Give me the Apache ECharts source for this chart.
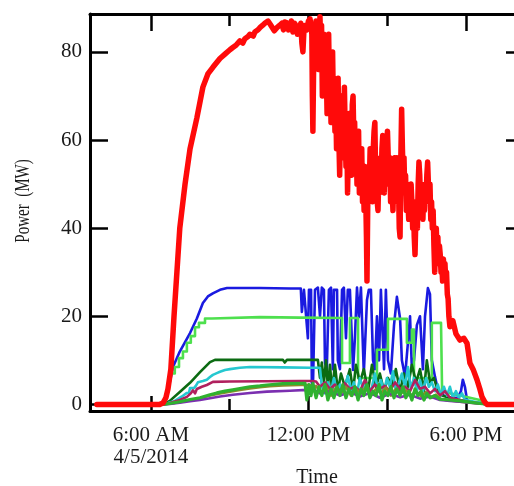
<!DOCTYPE html>
<html>
<head>
<meta charset="utf-8">
<script src="https://cdn.jsdelivr.net/npm/echarts@6/dist/echarts.min.js"></script>
<style>
html,body{margin:0;padding:0;background:#fff;}
#chart{width:514px;height:486px;}
</style>
</head>
<body>
<div id="chart"></div>
<script>
// time in hours (4/5/2014), power in MW
const xTickMajor = [6, 12, 18];
const xTickMinor = [9, 15];
const xTickLabels = ['6:00 AM\n4/5/2014', '12:00 PM', '6:00 PM'];
const yTicks = [0, 20, 40, 60, 80];

const redPower = [[3.94,0],[6.34,0],[6.46,0.3],[6.57,1.5],[6.65,3.5],[6.76,8],[6.88,20],[6.99,30],[7.10,40],[7.30,50],[7.49,58],[7.75,65],[7.98,72],[8.17,75],[8.36,76.5],[8.63,78.5],[8.82,79.5],[9.01,80.5],[9.12,81],[9.24,81.5],[9.39,82.5],[9.50,82],[9.58,83],[9.70,83.5],[9.77,84],[9.90,83.6],[9.96,84.5],[10.08,85],[10.15,85.5],[10.25,86],[10.34,86.5],[10.46,87],[10.55,86.2],[10.61,86],[10.70,84.8],[10.80,85.5],[10.90,86],[10.99,86.5],[11.05,85],[11.10,86.8],[11.18,86.6],[11.24,85],[11.30,85.5],[11.35,87],[11.41,84.5],[11.47,86.5],[11.52,86],[11.58,84],[11.64,85],[11.71,86.5],[11.75,82],[11.79,80],[11.83,85],[11.87,86],[11.94,85],[12.00,87],[12.06,87.5],[12.10,86],[12.13,84],[12.15,70],[12.17,62],[12.20,78],[12.23,86],[12.26,80],[12.29,87],[12.32,83],[12.35,86],[12.38,76],[12.41,84],[12.44,88],[12.47,80],[12.50,86],[12.53,70],[12.56,78],[12.59,84],[12.62,74],[12.65,82],[12.68,76],[12.71,66],[12.74,80],[12.77,84],[12.80,72],[12.83,78],[12.86,64],[12.89,74],[12.92,80],[12.95,68],[12.98,74],[13.01,62],[13.04,70],[13.07,58],[13.10,66],[13.13,74],[13.16,60],[13.19,52],[13.22,64],[13.25,70],[13.28,56],[13.31,66],[13.34,60],[13.37,72],[13.40,62],[13.43,54],[13.46,64],[13.49,48],[13.52,58],[13.55,66],[13.58,56],[13.61,62],[13.64,52],[13.67,68],[13.70,70],[13.73,60],[13.76,64],[13.79,54],[13.82,60],[13.85,50],[13.88,58],[13.91,62],[13.94,48],[13.97,56],[14.00,52],[14.03,58],[14.06,46],[14.09,52],[14.12,44],[14.15,54],[14.18,48],[14.21,38],[14.23,28],[14.26,46],[14.29,54],[14.32,50],[14.35,58],[14.38,48],[14.41,54],[14.44,46],[14.47,58],[14.50,62],[14.53,64],[14.56,52],[14.59,56],[14.62,46],[14.65,44],[14.68,52],[14.71,48],[14.74,56],[14.77,50],[14.80,58],[14.83,61],[14.86,52],[14.89,48],[14.92,56],[14.95,50],[14.98,58],[15.01,62],[15.04,56],[15.07,52],[15.10,56],[15.13,46],[15.16,52],[15.19,48],[15.22,44],[15.25,52],[15.28,56],[15.31,48],[15.34,54],[15.37,56],[15.40,46],[15.43,50],[15.46,40],[15.49,38],[15.52,56],[15.55,67],[15.58,58],[15.61,52],[15.64,56],[15.67,48],[15.70,52],[15.73,44],[15.76,50],[15.79,46],[15.82,42],[15.85,48],[15.88,44],[15.91,50],[15.94,46],[15.97,40],[16.00,46],[16.03,38],[16.06,34],[16.09,42],[16.12,46],[16.15,40],[16.18,50],[16.21,55],[16.24,52],[16.27,46],[16.30,50],[16.33,44],[16.36,42],[16.39,48],[16.42,44],[16.45,50],[16.48,46],[16.51,52],[16.54,55],[16.57,50],[16.60,46],[16.63,50],[16.66,42],[16.69,46],[16.72,40],[16.75,44],[16.78,36],[16.81,30],[16.84,36],[16.87,40],[16.90,34],[16.93,38],[16.96,32],[16.99,36],[17.02,34],[17.05,30],[17.08,32],[17.11,28],[17.14,33],[17.17,30],[17.20,32],[17.23,28],[17.26,30],[17.29,25],[17.32,24],[17.35,20],[17.39,17.6],[17.50,19],[17.62,16],[17.77,14.6],[17.92,15],[18.04,13.9],[18.15,9.4],[18.27,8],[18.42,5.6],[18.53,3.5],[18.61,1.7],[18.72,0.5],[18.80,0],[20.29,0]];

const bluePower = [[3.94,0],[6.46,0],[6.57,1.5],[6.72,5],[6.84,8.5],[7.10,12],[7.49,16.2],[7.75,19.5],[7.98,23],[8.17,24.5],[8.36,25.2],[8.63,26],[8.90,26.4],[10.15,26.4],[11.30,26.3],[11.71,26.3],[11.75,21],[11.83,26],[11.90,26.2],[11.98,15],[12.02,26],[12.10,26],[12.13,5],[12.17,3.3],[12.25,26],[12.36,26.5],[12.44,20],[12.51,26.5],[12.59,26],[12.63,9.4],[12.70,8],[12.78,26],[12.86,26.5],[12.93,8],[12.97,26],[13.09,26],[13.12,10],[13.20,8],[13.28,26],[13.35,26.5],[13.43,15],[13.50,26],[13.58,26],[13.70,7.8],[13.77,15],[13.85,26.5],[13.92,19.8],[14.00,26.5],[14.11,7],[14.23,23.7],[14.30,26],[14.38,26],[14.46,10],[14.53,8],[14.61,20],[14.69,10],[14.76,26],[14.88,8],[14.95,26],[15.03,10],[15.14,7],[15.26,18],[15.37,24.4],[15.49,19.5],[15.56,10],[15.68,6.3],[15.79,14],[15.87,20],[15.94,8],[16.02,10],[16.13,18],[16.25,20],[16.36,8],[16.44,20],[16.55,26.4],[16.63,25],[16.70,10],[16.82,6.3],[16.93,3.3],[17.05,2.5],[17.16,2],[17.28,1.7],[17.47,1.5],[17.69,1.5],[17.81,3],[17.88,5.6],[17.96,4],[18.04,1],[18.15,0.5],[18.53,0.3],[18.91,0],[20.29,0]];

const lightGreenPower = [[3.94,0],[6.46,0],[6.57,1.5],[6.69,5],[6.76,7],[6.91,7],[6.91,8.5],[7.07,8.5],[7.07,10.5],[7.22,10.5],[7.22,12],[7.37,12],[7.37,14],[7.52,14],[7.52,15.5],[7.68,15.5],[7.68,17.5],[7.83,17.5],[7.83,18.5],[8.06,18.5],[8.06,19.5],[8.32,19.5],[8.32,19.8],[10.15,19.8],[11.68,19.7],[13.28,19.6],[13.28,9.4],[13.58,9.4],[13.58,19.6],[13.89,19.6],[13.89,6],[14.61,6],[14.61,12.4],[15.03,12.4],[15.03,19.4],[15.75,19.4],[15.75,14],[15.94,14],[15.94,17],[16.02,17],[16.02,6],[16.70,6],[16.70,18.5],[17.05,18.5],[17.09,3.3],[17.39,2.5],[17.77,2],[18.15,1.5],[18.53,1],[18.91,0],[20.29,0]];

const darkGreenPower = [[3.94,0],[6.46,0],[6.57,0.3],[6.72,0.8],[7.10,2.8],[7.49,4.9],[7.87,7.3],[8.25,9.6],[8.44,10.1],[9.77,10.1],[11.03,10.1],[11.10,9.5],[11.18,10.1],[12.36,10.1],[12.44,6],[12.51,9.5],[12.59,5],[12.67,10],[12.74,4],[12.82,9],[12.90,3],[13.01,9],[13.12,3],[13.24,7],[13.39,4],[13.58,8],[13.70,3],[13.81,9],[13.96,5],[14.11,8],[14.27,3],[14.42,9],[14.57,4],[14.72,7],[14.88,3],[15.03,6],[15.18,4],[15.33,8],[15.49,3],[15.64,7],[15.79,4],[15.94,9],[16.10,5],[16.25,8],[16.40,3],[16.51,10],[16.63,5],[16.78,6],[16.93,3],[17.09,2],[17.39,1.5],[17.77,1],[18.15,0.5],[18.53,0.3],[18.91,0],[20.29,0]];

const cyanPower = [[3.94,0],[6.46,0],[6.65,0.3],[6.91,0.8],[7.18,1.8],[7.37,2.6],[7.45,2.6],[7.49,3.7],[7.64,3.7],[7.71,4.2],[7.79,5],[7.98,5.3],[8.13,5.6],[8.25,6.2],[8.36,6.7],[8.51,7.1],[8.63,7.4],[8.82,7.8],[9.01,8],[9.39,8.3],[9.77,8.5],[11.03,8.4],[12.06,8.3],[12.44,8.3],[12.51,4],[12.63,2.5],[12.74,5],[12.86,3],[12.97,6],[13.09,2.5],[13.20,4.5],[13.35,3],[13.50,6.5],[13.62,3],[13.73,5],[13.85,2.5],[13.96,6],[14.08,3.5],[14.19,5],[14.30,2.5],[14.42,4],[14.53,7],[14.65,3],[14.76,5.5],[14.88,3],[14.99,6],[15.10,4],[15.22,7.5],[15.33,3],[15.45,5],[15.56,7],[15.68,4],[15.79,8.5],[15.90,3.5],[16.02,6],[16.13,3],[16.25,5.5],[16.36,3],[16.48,6],[16.59,4],[16.70,5],[16.82,3],[16.93,4.5],[17.05,2],[17.16,4],[17.28,2],[17.39,4],[17.50,1.5],[17.62,3],[17.73,1.5],[17.85,2.5],[17.96,1],[18.15,0.8],[18.53,0.3],[18.91,0],[20.29,0]];

const crimsonPower = [[3.94,0],[6.46,0],[6.72,0.3],[7.10,1],[7.37,1.7],[7.52,2.5],[7.60,3.2],[7.68,2.5],[7.75,3.5],[7.94,4],[8.13,4.4],[8.36,5.1],[9.01,5.2],[11.68,5.3],[12.13,5.3],[12.29,5.2],[12.44,4],[12.63,5],[12.82,3.5],[13.01,4.5],[13.20,3],[13.39,4.8],[13.58,3.5],[13.77,4],[13.96,3],[14.15,5.5],[14.34,3],[14.53,4.5],[14.72,3.5],[14.91,4.2],[15.10,3],[15.30,5],[15.49,3.5],[15.68,4],[15.87,3],[16.06,5.5],[16.25,3.5],[16.44,4],[16.63,2.5],[16.82,3.5],[17.01,2],[17.20,3],[17.39,1.5],[17.77,1],[18.15,0.5],[18.53,0.2],[18.91,0],[20.29,0]];

const oliveGreenPower = [[3.94,0],[6.46,0],[6.72,0.2],[7.10,0.5],[7.49,1],[7.87,1.4],[8.25,2],[8.63,2.5],[9.01,2.9],[9.39,3.3],[9.77,3.6],[10.15,3.9],[10.53,4.1],[11.03,4.3],[11.68,4.4],[12.06,4.4],[12.17,3],[12.29,4.2],[12.48,2.5],[12.67,4],[12.86,2],[13.05,3.8],[13.24,2.5],[13.43,4],[13.62,2],[13.81,3.5],[14.00,2.5],[14.19,4],[14.38,2],[14.57,3.5],[14.76,2.5],[14.95,3.8],[15.14,2],[15.33,3.5],[15.52,2.5],[15.71,3.2],[15.90,2],[16.10,3],[16.29,1.8],[16.48,2.8],[16.67,1.5],[16.86,2.2],[17.05,1.2],[17.39,0.9],[17.77,0.6],[18.15,0.4],[18.53,0.2],[18.91,0],[20.29,0]];

const purplePower = [[3.94,0],[6.46,0],[6.72,0.1],[7.10,0.4],[7.49,0.7],[7.87,1],[8.25,1.4],[8.63,1.8],[9.12,2.2],[9.77,2.6],[10.42,2.9],[11.30,3.1],[11.94,3.3],[12.25,3.2],[12.44,2.5],[12.82,3],[13.20,2],[13.58,2.8],[13.96,1.8],[14.34,2.6],[14.72,1.5],[15.10,2.4],[15.49,1.6],[15.87,2.2],[16.25,1.3],[16.63,1.8],[17.01,1],[17.39,0.8],[17.77,0.6],[18.15,0.4],[18.53,0.2],[18.91,0],[20.29,0]];

const greenPower = [[3.94,0],[6.46,0],[6.72,0.2],[7.10,0.6],[7.49,1.1],[7.87,1.5],[8.25,2.2],[8.51,2.6],[8.82,3],[9.12,3.3],[9.39,3.6],[9.77,4],[10.15,4.2],[10.42,4.4],[11.03,4.7],[11.87,4.8],[11.94,1],[12.02,4.5],[12.10,2],[12.17,4.8],[12.29,1.5],[12.40,4],[12.51,2],[12.63,4.5],[12.74,1],[12.86,3.5],[12.97,1.5],[13.09,4],[13.20,2],[13.31,4.5],[13.43,1.5],[13.54,3.5],[13.66,2],[13.77,4],[13.89,1],[14.00,3.5],[14.11,2],[14.23,4.5],[14.34,1.5],[14.46,3],[14.57,2],[14.69,4.5],[14.80,1],[14.91,3],[15.03,2],[15.14,4],[15.26,1.5],[15.37,3.5],[15.49,2],[15.60,4],[15.71,1.5],[15.83,3],[15.94,1],[16.06,3.5],[16.17,2],[16.29,3],[16.40,1],[16.51,2.5],[16.63,1.5],[16.82,2],[17.01,1.2],[17.39,1],[17.77,0.8],[18.15,0.5],[18.53,0.2],[18.91,0],[20.29,0]];

const X_MIN = 3.68, X_MAX = 19.83, Y_MIN = -1.5, Y_MAX = 88.6;
const FONT = '"Liberation Serif", "DejaVu Serif", serif';

function line(name, data, color, width) {
  return {
    name: name, type: 'line', data: data, showSymbol: false, symbol: 'none',
    lineStyle: { color: color, width: width, join: 'round', cap: 'round' },
    itemStyle: { color: color }, clip: true, silent: true, z: 2
  };
}

function xAx(pos, ticks, len, showLine, labels) {
  return {
    type: 'value', position: pos, min: X_MIN, max: X_MAX,
    axisLine: { show: showLine, onZero: false, lineStyle: { color: '#000', width: 3 } },
    axisTick: { show: true, inside: true, length: len, customValues: ticks, lineStyle: { color: '#000', width: 2.5 } },
    axisLabel: labels ? {
      show: true, customValues: xTickMajor, margin: 13, color: '#1a1a1a',
      fontFamily: FONT, fontSize: 21, lineHeight: 22,
      formatter: function (v) { const i = xTickMajor.indexOf(Math.round(v)); return i >= 0 ? xTickLabels[i] : ''; }
    } : { show: false },
    splitLine: { show: false }
  };
}

const chart = echarts.init(document.getElementById('chart'), null, { renderer: 'canvas' });
chart.setOption({
  animation: false,
  backgroundColor: '#fff',
  grid: { left: 90, top: 14, right: 0, height: 397, containLabel: false },
  xAxis: [
    xAx('bottom', xTickMajor, 15, true, true),
    xAx('bottom', xTickMinor, 12, false, false),
    xAx('top', xTickMajor, 17, true, false),
    xAx('top', xTickMinor, 12, false, false)
  ],
  yAxis: [
    {
      type: 'value', position: 'left', min: Y_MIN, max: Y_MAX,
      axisLine: { show: true, onZero: false, lineStyle: { color: '#000', width: 3 } },
      axisTick: { show: true, inside: true, length: 18, customValues: yTicks, lineStyle: { color: '#000', width: 2.5 } },
      axisLabel: { show: true, customValues: yTicks, margin: 8, color: '#1a1a1a', fontFamily: FONT, fontSize: 21 },
      splitLine: { show: false }
    },
    {
      type: 'value', position: 'right', min: Y_MIN, max: Y_MAX,
      axisLine: { show: false, onZero: false },
      axisTick: { show: true, inside: true, length: 8, customValues: yTicks, lineStyle: { color: '#000', width: 2.5 } },
      axisLabel: { show: false },
      splitLine: { show: false }
    }
  ],
  graphic: [
    { type: 'text', x: 317, y: 478, silent: true,
      style: { text: 'Time', font: '20px ' + FONT, fill: '#1a1a1a', align: 'center', verticalAlign: 'middle' } },
    { type: 'text', x: 24, y: 201, rotation: Math.PI / 2, scaleX: 0.75, silent: true,
      style: { text: 'Power  (MW)', font: '20px ' + FONT, fill: '#1a1a1a', align: 'center', verticalAlign: 'middle' } }
  ],
  series: [
    line('Blue', bluePower, '#1a1ae0', 2.6),
    line('Light green', lightGreenPower, '#4ee04e', 2.6),
    line('Dark green', darkGreenPower, '#0b6b12', 2.6),
    line('Cyan', cyanPower, '#25c8d0', 2.6),
    line('Crimson', crimsonPower, '#b0205e', 2.6),
    line('Olive', oliveGreenPower, '#8c8a2a', 2.6),
    line('Purple', purplePower, '#7b2fb0', 2.6),
    line('Green', greenPower, '#2fb12f', 3.2),
    line('Red', redPower, '#ff0a0a', 5.5)
  ]
});
</script>
</body>
</html>
